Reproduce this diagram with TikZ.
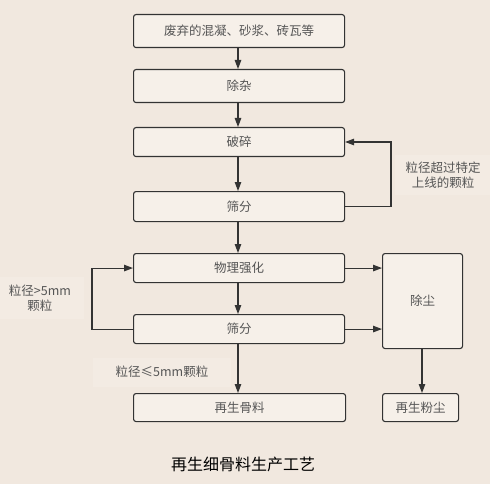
\documentclass[tikz,border=0pt]{standalone}
\usepackage{fontspec}
\setmainfont{Noto Sans CJK SC}
\usetikzlibrary{arrows.meta}
\definecolor{bg}{HTML}{F1E8DF}
\definecolor{boxfill}{HTML}{F6F0E9}
\definecolor{lbl}{HTML}{F3EBE3}
\definecolor{line}{HTML}{333333}
\definecolor{txt}{HTML}{555555}
\tikzset{
  x=1pt, y=-1pt,
  proc/.style={draw=line, line width=1.1pt, fill=boxfill, rounded corners=2.5pt, text=txt, font=\fontsize{12.5}{14}\selectfont, anchor=north west, inner sep=0pt, align=center},
  conn/.style={draw=line, line width=1.1pt, -{Triangle[length=9pt,width=6.5pt]}},
  note/.style={fill=lbl, text=txt, font=\fontsize{12.5}{15.5}\selectfont, align=center, inner sep=0pt}
}
\begin{document}
\begin{tikzpicture}
\fill[bg] (0,0) rectangle (490,484);
\useasboundingbox (0,0) rectangle (490,484);
% boxes
\node[proc, minimum width=211pt, minimum height=33pt] (b1) at (133,14) {废弃的混凝、砂浆、砖瓦等};
\node[proc, minimum width=211pt, minimum height=33pt] (b2) at (133,69) {除杂};
\node[proc, minimum width=211pt, minimum height=29pt] (b3) at (133,127) {破碎};
\node[proc, minimum width=211pt, minimum height=30pt] (b4) at (133,191) {筛分};
\node[proc, minimum width=211pt, minimum height=29pt] (b5) at (133,253) {物理强化};
\node[proc, minimum width=211pt, minimum height=29pt] (b6) at (133,314) {筛分};
\node[proc, minimum width=80pt, minimum height=95pt] (dust) at (382,253) {除尘};
\node[proc, minimum width=212pt, minimum height=28pt] (b7) at (133,393) {再生骨料};
\node[proc, minimum width=76pt, minimum height=28pt] (b8) at (382,393) {再生粉尘};
% labels
\node[note, minimum width=96pt, minimum height=40pt] (n1) at (443,175) {粒径超过特定\\上线的颗粒};
\node[note, minimum width=87pt, minimum height=42pt] (n2) at (40,298) {粒径>5mm\\颗粒};
\node[note, minimum width=138pt, minimum height=29pt] (n3) at (162,372) {粒径≤5mm颗粒};
\node[font=\fontsize{16}{18}\selectfont, text=black, inner sep=0pt] (title) at (243,464) {再生细骨料生产工艺};
% connectors
\coordinate (x) at (238,0);
\draw[conn] (b1.south -| x) -- (b2.north -| x);
\draw[conn] (b2.south -| x) -- (b3.north -| x);
\draw[conn] (b3.south -| x) -- (b4.north -| x);
\draw[conn] (b4.south -| x) -- (b5.north -| x);
\draw[conn] (b5.south -| x) -- (b6.north -| x);
\draw[conn] (b6.south -| x) -- (b7.north -| x);
\coordinate (r1) at (391,142);
\draw[conn] (b4.east) -- (b4.east -| r1) -- (r1) -- (r1 -| b3.east);
\coordinate (l1) at (92,0);
\draw[conn] (b6.west) -- (b6.west -| l1) |- (b5.west);
\draw[conn] (b5.east) -- (b5.east -| dust.west);
\draw[conn] (b6.east) -- (b6.east -| dust.west);
\coordinate (dx) at (422,0);
\draw[conn] (dust.south -| dx) -- (b8.north -| dx);
\end{tikzpicture}
\end{document}
